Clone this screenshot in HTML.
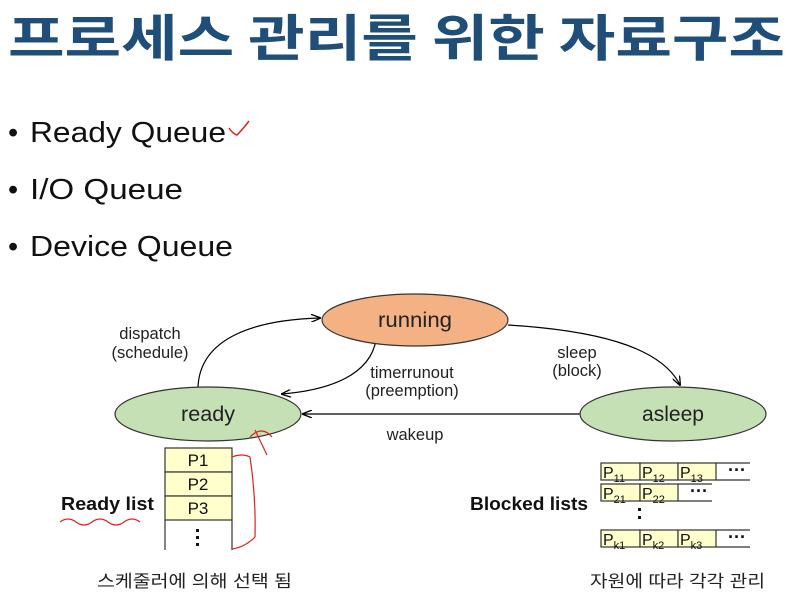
<!DOCTYPE html>
<html><head><meta charset="utf-8"><style>
body{margin:0;width:806px;height:594px;background:#fff;overflow:hidden;font-family:"Liberation Sans","Noto Sans CJK KR",sans-serif}
</style></head><body>
<svg width="806" height="594" xmlns="http://www.w3.org/2000/svg" font-family="Liberation Sans, Noto Sans CJK KR, sans-serif">
<defs><marker id="a" markerWidth="10" markerHeight="8" refX="9" refY="4" orient="auto" markerUnits="userSpaceOnUse"><path d="M0,0 L10,4 L0,8" fill="none" stroke="#000" stroke-width="1.3"/></marker></defs>
<text x="8" y="56" font-size="50" font-weight="bold" fill="#1f4e79" font-family="Noto Sans CJK KR, sans-serif" textLength="777" lengthAdjust="spacingAndGlyphs">프로세스 관리를 위한 자료구조</text>
<g font-size="29" fill="#111">
<text x="8" y="142">•</text><text x="30" y="142" textLength="196" lengthAdjust="spacingAndGlyphs">Ready Queue</text>
<text x="8" y="199">•</text><text x="30" y="199" textLength="153" lengthAdjust="spacingAndGlyphs">I/O Queue</text>
<text x="8" y="256">•</text><text x="30" y="256" textLength="203" lengthAdjust="spacingAndGlyphs">Device Queue</text>
</g>
<path d="M229,128 q4,6 8,7 q6,-6 12,-14" fill="none" stroke="#e02020" stroke-width="1.5"/>
<!-- edges -->
<path d="M198,387 C200,340 250,320 320,318" fill="none" stroke="#000" stroke-width="1.2" marker-end="url(#a)"/>
<path d="M376,340 C370,375 330,390 282,394" fill="none" stroke="#000" stroke-width="1.2" marker-end="url(#a)"/>
<path d="M508,325 C590,330 660,345 680,385" fill="none" stroke="#000" stroke-width="1.2" marker-end="url(#a)"/>
<path d="M580,414 L303,414" fill="none" stroke="#000" stroke-width="1.2" marker-end="url(#a)"/>
<ellipse cx="415" cy="320" rx="93" ry="26" fill="#f4b183" stroke="#333" stroke-width="1.2"/>
<ellipse cx="208" cy="414" rx="93" ry="27" fill="#c5e0b4" stroke="#333" stroke-width="1.2"/>
<ellipse cx="673" cy="414" rx="93" ry="27" fill="#c5e0b4" stroke="#333" stroke-width="1.2"/>
<g font-size="21" fill="#222" text-anchor="middle">
<text x="415" y="327" textLength="74" lengthAdjust="spacingAndGlyphs">running</text>
<text x="208" y="421" textLength="54" lengthAdjust="spacingAndGlyphs">ready</text>
<text x="673" y="421" textLength="62" lengthAdjust="spacingAndGlyphs">asleep</text>
</g>
<g font-size="16.5" fill="#222" text-anchor="middle">
<text x="150" y="339">dispatch</text><text x="150" y="358">(schedule)</text>
<text x="412" y="378">timerrunout</text><text x="412" y="396">(preemption)</text>
<text x="577" y="358">sleep</text><text x="577" y="376">(block)</text>
<text x="415" y="440">wakeup</text>
</g>
<!-- ready list -->
<g stroke="#333" stroke-width="1.2">
<rect x="165" y="448" width="67" height="24" fill="#ffffcc"/>
<rect x="165" y="472" width="67" height="24" fill="#ffffcc"/>
<rect x="165" y="496" width="67" height="24" fill="#ffffcc"/>
<line x1="165" y1="520" x2="165" y2="550"/><line x1="232" y1="520" x2="232" y2="550"/>
</g>
<g font-size="17" fill="#111" text-anchor="middle">
<text x="198" y="466">P1</text><text x="198" y="490">P2</text><text x="198" y="514">P3</text>
</g>
<g fill="#111"><rect x="196" y="529" width="3" height="3"/><rect x="196" y="536" width="3" height="3"/><rect x="196" y="543" width="3" height="3"/></g>
<text x="61" y="510" font-size="18" font-weight="bold" fill="#111" textLength="93" lengthAdjust="spacingAndGlyphs">Ready list</text>
<path d="M60,522 q8,-6 16,0 t16,0 t16,0 t16,0 t16,0" fill="none" stroke="#e02020" stroke-width="1.2"/>
<path d="M232,457 q10,-4 18,0 q6,40 5,80 q-10,10 -23,12" fill="none" stroke="#e02020" stroke-width="1.2"/>
<path d="M250,437 q12,-12 22,0 M255,430 l12,25" fill="none" stroke="#e02020" stroke-width="1.2"/>
<!-- blocked lists -->
<g stroke="#333" stroke-width="1.2" fill="#ffffcc">
<rect x="601" y="463" width="39" height="17"/><rect x="640" y="463" width="38" height="17"/><rect x="678" y="463" width="38" height="17"/>
<line x1="716" y1="463" x2="750" y2="463"/><line x1="716" y1="480" x2="750" y2="480"/>
<rect x="601" y="484" width="39" height="17"/><rect x="640" y="484" width="38" height="17"/>
<line x1="678" y1="484" x2="712" y2="484"/><line x1="678" y1="501" x2="712" y2="501"/>
<rect x="601" y="530" width="39" height="17"/><rect x="640" y="530" width="38" height="17"/><rect x="678" y="530" width="38" height="17"/>
<line x1="716" y1="530" x2="750" y2="530"/><line x1="716" y1="547" x2="750" y2="547"/>
</g>
<g font-size="16" fill="#111">
<text x="603" y="478">P<tspan font-size="11" dy="4">11</tspan></text>
<text x="642" y="478">P<tspan font-size="11" dy="4">12</tspan></text>
<text x="680" y="478">P<tspan font-size="11" dy="4">13</tspan></text>
<text x="603" y="499">P<tspan font-size="11" dy="4">21</tspan></text>
<text x="642" y="499">P<tspan font-size="11" dy="4">22</tspan></text>
<text x="603" y="545">P<tspan font-size="11" dy="4">k1</tspan></text>
<text x="642" y="545">P<tspan font-size="11" dy="4">k2</tspan></text>
<text x="680" y="545">P<tspan font-size="11" dy="4">k3</tspan></text>
<text x="728" y="476" font-weight="bold" font-size="18">···</text>
<text x="690" y="497" font-weight="bold" font-size="18">···</text>
<text x="728" y="543" font-weight="bold" font-size="18">···</text>
</g>
<g fill="#111"><rect x="638" y="508" width="3" height="3"/><rect x="638" y="516" width="3" height="3"/></g>
<text x="470" y="510" font-size="18" font-weight="bold" fill="#111" textLength="118" lengthAdjust="spacingAndGlyphs">Blocked lists</text>
<g font-size="17" fill="#222">
<text x="97" y="587" textLength="195" lengthAdjust="spacingAndGlyphs">스케줄러에 의해 선택 됨</text>
<text x="590" y="587" textLength="175" lengthAdjust="spacingAndGlyphs">자원에 따라 각각 관리</text>
</g>
</svg>
</body></html>
